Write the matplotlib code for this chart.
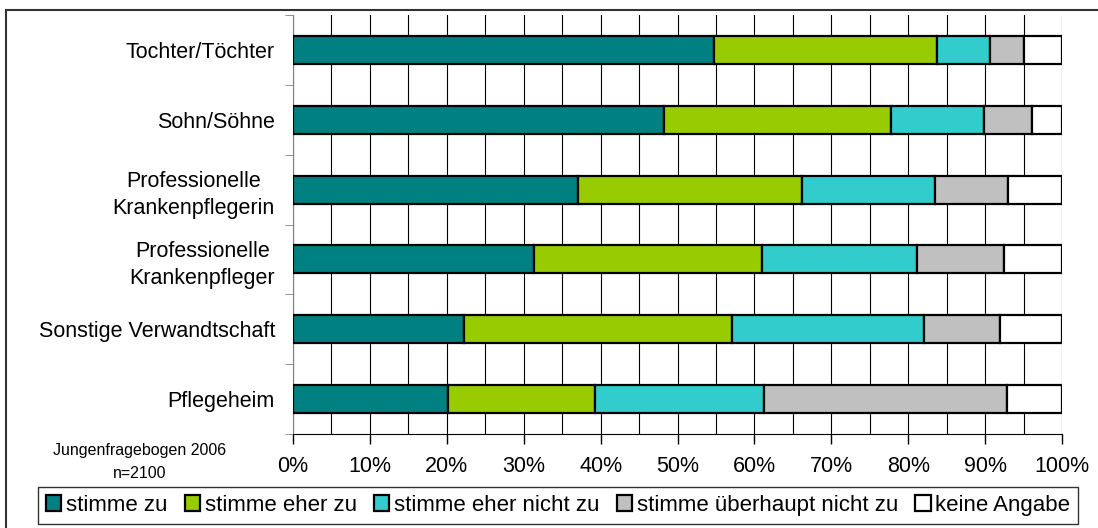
import matplotlib
matplotlib.use("Agg")
import matplotlib.pyplot as plt
import matplotlib.patches as mpatches
import numpy as np

plt.rcParams['font.family'] = ['Liberation Sans', 'DejaVu Sans']

categories = ["Tochter/Töchter", "Sohn/Söhne", "Professionelle\nKrankenpflegerin",
              "Professionelle\nKrankenpfleger", "Sonstige Verwandtschaft", "Pflegeheim"]
series_names = ["stimme zu", "stimme eher zu", "stimme eher nicht zu",
                "stimme überhaupt nicht zu", "keine Angabe"]
stimme_zu = [54.8, 48.3, 37.0, 31.3, 22.3, 20.1]
eher_zu = [29.0, 29.4, 29.2, 29.7, 34.8, 19.2]
eher_nicht = [6.9, 12.2, 17.3, 20.2, 24.9, 22.0]
gar_nicht = [4.4, 6.2, 9.5, 11.2, 10.0, 31.5]
keine = [4.9, 3.9, 7.0, 7.6, 8.0, 7.2]
colors = ["#008080", "#99CC00", "#33CCCC", "#C0C0C0", "#FFFFFF"]

fig = plt.figure(figsize=(10.98, 5.28), dpi=100)
ax = fig.add_axes([293 / 1098, 1 - 434 / 528, 769 / 1098, 419 / 528])

y = np.arange(len(categories))[::-1]
left = np.zeros(len(categories))
for vals, name, col in zip([stimme_zu, eher_zu, eher_nicht, gar_nicht, keine], series_names, colors):
    ax.barh(y, vals, left=left, height=0.4, color=col, edgecolor="black",
            linewidth=1.6, label=name, zorder=3)
    left += np.array(vals)

ax.set_xlim(0, 100)
ax.set_ylim(-0.5, len(categories) - 0.5)

ax.set_xticks(np.arange(0, 101, 10))
ax.set_xticks(np.arange(5, 100, 10), minor=True)
ax.set_xticklabels([f"{v}%" for v in range(0, 101, 10)], fontsize=15.5)
ax.tick_params(axis="x", which="major", direction="out", length=7, width=1, pad=9)
ax.tick_params(axis="x", which="minor", length=0)
ax.xaxis.grid(True, which="both", color="black", linewidth=0.8, zorder=0)

ax.set_yticks(y)
ax.set_yticklabels(categories, fontsize=15.5, multialignment="center", linespacing=1.4)
ax.set_yticks(np.arange(-0.5, len(categories), 1), minor=True)
ax.tick_params(axis="y", which="major", length=0, pad=13)
ax.tick_params(axis="y", which="minor", direction="out", length=6, color="#808080")

ax.spines["top"].set_visible(False)
ax.spines["right"].set_visible(False)
ax.spines["left"].set_color("#808080")
ax.spines["bottom"].set_color("black")
ax.set_axisbelow(True)

fig.text(140 / 1098, 1 - 450 / 528, "Jungenfragebogen 2006", ha="center", va="center", fontsize=11.5)
fig.text(140 / 1098, 1 - 474 / 528, "n=2100", ha="center", va="center", fontsize=11.5)

# outer frame of the chart
fig.add_artist(mpatches.Rectangle((6 / 1098, -0.1), 1.2, 1 - 10 / 528 + 0.1,
                                  transform=fig.transFigure, fill=False,
                                  edgecolor="#333333", linewidth=1.5))

handles, labels = ax.get_legend_handles_labels()
leg = fig.legend(handles, labels, loc="center", ncol=5,
                 bbox_to_anchor=(38 / 1098, 1 / 528, (1078 - 38) / 1098, 43 / 528),
                 mode="expand", fontsize=16, frameon=True, fancybox=False,
                 handlelength=0.7, handleheight=0.7, handletextpad=0.2,
                 columnspacing=1.0, borderaxespad=0, borderpad=0.35)
leg.get_frame().set_edgecolor("black")
leg.get_frame().set_linewidth(1.0)

fig.savefig("out.png", dpi=100)
